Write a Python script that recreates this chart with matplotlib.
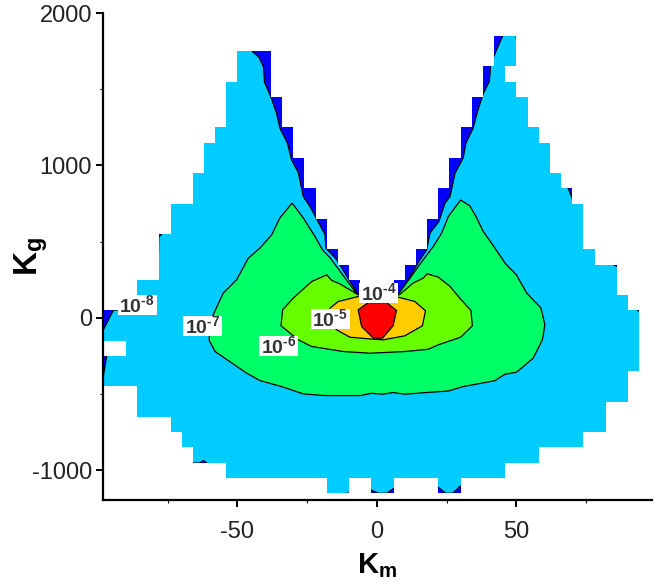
import matplotlib
matplotlib.use('Agg')
import numpy as np
import matplotlib.pyplot as plt
from matplotlib.path import Path
from matplotlib.patches import PathPatch, Rectangle
from matplotlib.ticker import MultipleLocator

plt.rcParams['font.family'] = ['Liberation Sans', 'DejaVu Sans']
plt.rcParams['mathtext.fontset'] = 'custom'
plt.rcParams['mathtext.rm'] = 'Liberation Sans:bold'
plt.rcParams['mathtext.default'] = 'rm'
plt.rcParams['axes.unicode_minus'] = False

# Grid cells that hold data: row centre (Kg) and the Km spans filled in that row
row_kg = [1800, 1700, 1600, 1500, 1400, 1300, 1200, 1100, 1000, 900, 800, 700, 600, 500, 400, 300,
          200, 100, 0, -100, -200, -300, -400, -500, -600, -700, -800, -900, -1000, -1100]
row_spans = [
    [(42, 50)],
    [(-50, -38), (42, 50)],
    [(-50, -38), (38, 46)],
    [(-54, -38), (38, 50)],
    [(-54, -34), (34, 54)],
    [(-54, -34), (34, 54)],
    [(-58, -30), (30, 58)],
    [(-62, -30), (30, 62)],
    [(-62, -26), (26, 62)],
    [(-66, -26), (26, 66)],
    [(-66, -22), (22, 70)],
    [(-74, -22), (22, 74)],
    [(-74, -18), (18, 74)],
    [(-78, -18), (18, 74)],
    [(-78, -14), (14, 78)],
    [(-78, -10), (10, 86)],
    [(-86, -6), (6, 86)],
    [(-86, 90)],
    [(-98, 94)],
    [(-98, 94)],
    [(-90, 94)],
    [(-98, 94)],
    [(-98, 90)],
    [(-86, 90)],
    [(-86, 82)],
    [(-74, 82)],
    [(-70, 74)],
    [(-66, 58)],
    [(-54, 46)],
    [(-18, -10), (-2, 6), (22, 30)],
]
cell_height = 100

# Contour outlines, (Km, Kg)
contour_1e8 = [(-44.7, 1760), (-44.7, 1749), (-42.3, 1709), (-40.7, 1650), (-40.3, 1545), (-38, 1449), (-36, 1344),
               (-34.8, 1245), (-32.1, 1147), (-30.6, 1037), (-28.2, 954), (-26.4, 796), (-24, 731), (-18.6, 545),
               (-18.3, 458), (-14.4, 381), (-6.7, 151), (0, 120), (8, 151), (15.4, 381), (17.8, 446), (19, 556),
               (22.2, 632), (24.4, 753), (26.2, 796), (28, 950), (30.9, 1048), (31.9, 1147), (34.5, 1245),
               (35.7, 1333), (38.1, 1471), (40.3, 1552), (40.7, 1650), (42, 1720), (45.1, 1852), (49.8, 1860),
               (50.3, 1790), (68.6, 849), (70.2, 775), (80, 760), (84.7, 350), (86.1, 337), (91, 150), (93.4, 50),
               (94.2, 40), (100, -1200), (30, -1103), (27.1, -1151), (24.7, -1151), (22, -1112), (6.1, -1118),
               (3.5, -1151), (0.5, -1151), (-2.2, -1129), (-30, -1200), (-55, -1060), (-61, -952), (-62.2, -937),
               (-63.5, -952), (-70, -955), (-75, -850), (-90, -700), (-100, -400), (-98.1, -385), (-96.9, -250),
               (-100, -245), (-100, -80), (-98.1, -79), (-94.5, 50), (-88, 60), (-87, 255), (-78.5, 260),
               (-78.2, 530), (-77.2, 550), (-75, 760), (-67, 960), (-63, 1160), (-59, 1260), (-55, 1560), (-51, 1760)]
contour_1e7 = [(-30.4, 753), (-26.4, 655), (-22.6, 545), (-19.5, 446), (-16.8, 394), (-7, 151), (0, 130), (7.5, 151),
               (16.6, 381), (20.2, 468), (23.2, 556), (25.6, 665), (30, 773), (33.3, 735), (35.5, 665), (38.1, 567),
               (41.9, 468), (46.1, 355), (50, 282), (53.7, 162), (58.8, 64), (60.2, -46), (59.3, -144), (56, -265),
               (50, -357), (45.9, -370), (42.3, -412), (30.9, -451), (25.6, -480), (17.8, -490), (10, -501),
               (5.8, -490), (2, -501), (-1.9, -495), (-6.1, -510), (-18.6, -510), (-26.4, -499), (-34.2, -451),
               (-41.9, -412), (-46.7, -363), (-54.5, -265), (-58, -221), (-60.1, -149), (-60.1, -90), (-58.7, 20),
               (-55.1, 162), (-50.3, 250), (-46.1, 392), (-41.9, 458), (-37.7, 545), (-34.8, 655)]
contour_1e6 = [(-34.4, -52), (-33.8, 53), (-30, 129), (-23.4, 238), (-18, 282), (-16.2, 245), (-13.3, 223),
               (-6.7, 151), (0, 135), (8, 151), (13, 228), (16.6, 261), (18, 289), (22, 267), (26.2, 206), (29.7, 129),
               (33.7, 48), (34.2, -52), (30, -127), (22, -177), (18.4, -206), (10, -221), (-2.5, -232), (-12, -221),
               (-23.4, -188), (-28.2, -144)]
contour_1e5 = [(-16.8, 64), (-13.9, 107), (-6.7, 140), (0, 145), (8, 134), (13.6, 107), (17.4, 46), (16.3, -52),
               (10, -118), (2.3, -144), (-1.3, -140), (-9.7, -127), (-14.4, -79), (-18, -10)]
contour_1e4 = [(-6.7, 53), (-5.5, -57), (-1.3, -133), (2, -133), (5.8, -52), (7, 48), (3.5, 100), (-3.1, 100)]

band_contours = [contour_1e8, contour_1e7, contour_1e6, contour_1e5, contour_1e4]
band_colors = ['#00CCFF', '#00FF66', '#66FF00', '#FFCC00', '#FF0000']

label_texts = ['-8', '-7', '-6', '-5', '-4']
label_km = [-86, -62.4, -35.3, -16.8, 0.7]
label_kg = [85, -52, -184, -7, 164]

fig = plt.figure(figsize=(6.61, 5.87), dpi=100)
ax = fig.add_axes([103 / 661, 87 / 587, 549 / 661, 487 / 587])

# cells first, in the lowest level colour
verts, codes = [], []
for kg, spans in zip(row_kg, row_spans):
    y0, y1 = kg - cell_height / 2, kg + cell_height / 2
    for x0, x1 in spans:
        verts += [(x0, y0), (x1, y0), (x1, y1), (x0, y1), (x0, y0)]
        codes += [Path.MOVETO, Path.LINETO, Path.LINETO, Path.LINETO, Path.CLOSEPOLY]
cells = PathPatch(Path(verts, codes), facecolor='#0000FF', edgecolor='none', zorder=1)
ax.add_patch(cells)

# contour bands, clipped to the cells
for i, (outline, color) in enumerate(zip(band_contours, band_colors)):
    pts = np.array(outline)
    poly = ax.fill(pts[:, 0], pts[:, 1], facecolor=color, edgecolor='black', linewidth=0.9, zorder=2 + i)[0]
    poly.set_clip_path(cells)

# white label boxes, 14 units wide and 131 tall
for txt, km, kg in zip(label_texts, label_km, label_kg):
    ax.add_patch(Rectangle((km - 7, kg - 65.5), 14, 131, facecolor='white', edgecolor='none', zorder=9))
    ax.text(km, kg, '$10^{\\text{%s}}$' % txt, fontsize=14, color='#333333', ha='center', va='center', zorder=10)

ax.set_xlim(-98.2, 98.6)
ax.set_ylim(-1195, 2000)
ax.spines['top'].set_visible(False)
ax.spines['right'].set_visible(False)
ax.spines['left'].set_linewidth(1.6)
ax.spines['bottom'].set_linewidth(1.6)
ax.xaxis.set_major_locator(MultipleLocator(50))
ax.xaxis.set_minor_locator(MultipleLocator(25))
ax.yaxis.set_major_locator(MultipleLocator(1000))
ax.yaxis.set_minor_locator(MultipleLocator(500))
ax.tick_params(which='major', length=5, width=1.4, labelsize=17, labelcolor='#222222')
ax.tick_params(axis='x', which='major', pad=10)
ax.tick_params(axis='y', which='major', pad=3)
ax.tick_params(which='minor', length=2, width=0.8)

ax.set_xlabel('$\\mathrm{K_m}$', fontsize=21)
ax.set_ylabel('$\\mathrm{K_g}$', fontsize=24)
ax.xaxis.set_label_coords(0.5, -0.105)
ax.yaxis.set_label_coords(-0.096, 0.5)

fig.savefig('out.png', dpi=100)
